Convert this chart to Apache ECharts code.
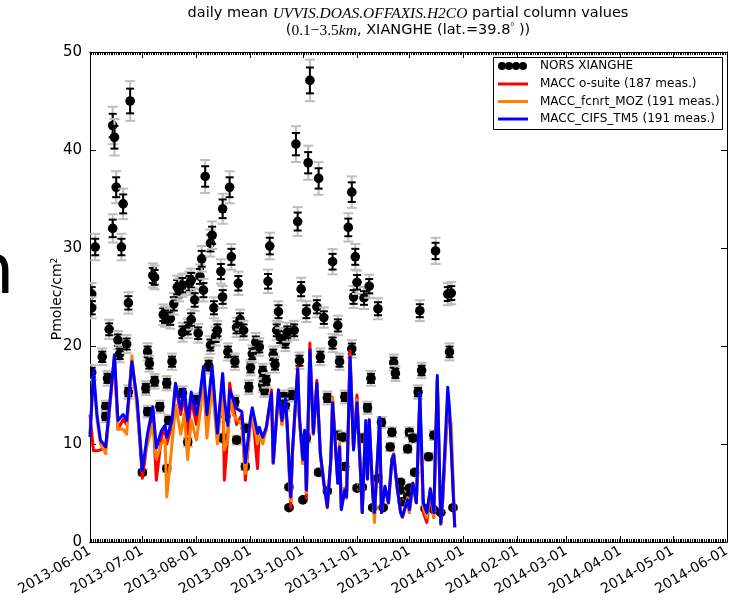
<!DOCTYPE html>
<html><head><meta charset="utf-8">
<script src="https://cdn.jsdelivr.net/npm/echarts@6/dist/echarts.min.js"></script>
<style>html,body{margin:0;padding:0;background:#fff}#c{width:731px;height:600px}</style>
</head><body><div id="c"></div>
<script>
// ---------------- data ----------------
const monthTicks = ['2013-06-01','2013-07-01','2013-08-01','2013-09-01','2013-10-01','2013-11-01','2013-12-01','2014-01-01','2014-02-01','2014-03-01','2014-04-01','2014-05-01','2014-06-01'];
const yTicks = [0,10,20,30,40,50];

const norsDates = ['2013-06-02','2013-06-02','2013-06-02','2013-06-04','2013-06-08','2013-06-10','2013-06-10','2013-06-11','2013-06-12','2013-06-14','2013-06-14','2013-06-15','2013-06-16','2013-06-17','2013-06-18','2013-06-19','2013-06-20','2013-06-22','2013-06-23','2013-06-23','2013-06-24',
'2013-07-01','2013-07-03','2013-07-04','2013-07-04','2013-07-05','2013-07-07','2013-07-08','2013-07-08','2013-07-11','2013-07-13','2013-07-14','2013-07-15','2013-07-15','2013-07-16','2013-07-17','2013-07-18','2013-07-19','2013-07-21','2013-07-22','2013-07-24','2013-07-24','2013-07-24','2013-07-27','2013-07-27','2013-07-28','2013-07-29','2013-07-29','2013-07-31',
'2013-08-01','2013-08-02','2013-08-03','2013-08-04','2013-08-05','2013-08-06','2013-08-08','2013-08-09','2013-08-09','2013-08-10','2013-08-11','2013-08-12','2013-08-13','2013-08-15','2013-08-16','2013-08-16','2013-08-16','2013-08-18','2013-08-19','2013-08-20','2013-08-21','2013-08-23','2013-08-23','2013-08-24','2013-08-24','2013-08-25','2013-08-26','2013-08-28','2013-08-29','2013-08-29','2013-08-31',
'2013-09-01','2013-09-02','2013-09-04','2013-09-06','2013-09-08','2013-09-08','2013-09-09','2013-09-10','2013-09-11','2013-09-12','2013-09-14','2013-09-15','2013-09-16','2013-09-17','2013-09-18','2013-09-20','2013-09-21','2013-09-21','2013-09-22','2013-09-23','2013-09-23','2013-09-25','2013-09-26','2013-09-27','2013-09-28','2013-09-29','2013-09-30',
'2013-10-01','2013-10-03','2013-10-03','2013-10-04','2013-10-05','2013-10-09','2013-10-10','2013-10-10','2013-10-11','2013-10-13','2013-10-15','2013-10-15','2013-10-18','2013-10-18','2013-10-21','2013-10-21','2013-10-22','2013-10-24','2013-10-25','2013-10-25','2013-10-27','2013-10-29','2013-10-29','2013-10-30','2013-10-31',
'2013-11-01','2013-11-01','2013-11-04','2013-11-04','2013-11-05','2013-11-07','2013-11-08','2013-11-09','2013-11-10','2013-11-13','2013-11-13','2013-11-15','2013-11-16','2013-11-20','2013-11-21','2013-11-22','2013-11-23','2013-11-26','2013-11-26','2013-11-27','2013-11-30','2013-11-30',
'2013-12-01','2013-12-01','2013-12-03','2013-12-04','2013-12-06','2013-12-07','2013-12-08','2013-12-10','2013-12-12','2013-12-15','2013-12-15','2013-12-16','2013-12-19','2013-12-23','2013-12-24','2013-12-25','2013-12-26'];
const norsValues = [25.3,23.9,17.3,30.1,18.9,13.8,12.8,16.7,21.7,32.0,42.5,41.3,36.2,20.6,19.2,30.1,34.5,20.2,15.3,24.4,45.0,
7.1,15.7,19.4,13.3,18.2,27.2,27.0,16.4,13.8,23.2,23.0,16.2,7.5,12.4,22.8,18.4,24.3,26.0,25.7,15.2,26.2,21.4,21.8,10.2,26.4,26.7,22.7,24.7,
14.5,21.3,27.1,28.9,25.7,37.3,18.0,30.5,20.1,31.3,23.9,21.0,21.6,27.6,34.0,25.0,10.6,12.8,19.4,36.2,29.1,18.4,14.3,21.9,10.4,26.4,22.7,21.6,7.7,11.6,15.8,
17.8,19.2,20.4,19.9,16.0,17.4,15.5,16.5,26.6,30.2,19.1,18.1,21.6,23.5,20.9,14.8,20.4,14.0,21.4,5.6,3.5,15.0,21.6,40.6,32.7,18.5,25.8,
4.3,23.5,10.6,38.7,47.1,24.0,37.1,7.1,18.9,22.9,5.2,14.7,20.3,28.6,10.9,22.1,18.4,10.7,7.7,14.8,32.1,35.7,19.7,25.0,29.1,
26.5,5.5,5.6,10.6,24.9,13.7,26.1,16.7,3.5,23.8,6.5,12.2,3.5,9.7,11.2,18.3,17.2,6.1,5.3,4.1,9.5,4.6,
11.2,5.5,10.6,7.1,15.3,23.6,17.5,3.4,8.7,10.9,3.3,29.7,3.0,25.3,19.4,25.4,3.5];

const lineDates = ['2013-06-01','2013-06-03','2013-06-05','2013-06-07','2013-06-10','2013-06-15','2013-06-17','2013-06-20','2013-06-22','2013-06-25','2013-06-28',
'2013-07-01','2013-07-04','2013-07-07','2013-07-09','2013-07-12','2013-07-14','2013-07-15','2013-07-18','2013-07-20','2013-07-23','2013-07-25','2013-07-27','2013-07-29',
'2013-08-01','2013-08-03','2013-08-05','2013-08-07','2013-08-10','2013-08-13','2013-08-16','2013-08-17','2013-08-19','2013-08-20','2013-08-22','2013-08-24','2013-08-27','2013-08-29',
'2013-09-01','2013-09-02','2013-09-05','2013-09-06','2013-09-08','2013-09-10','2013-09-13','2013-09-14','2013-09-17','2013-09-19','2013-09-21','2013-09-22','2013-09-24','2013-09-25','2013-09-28','2013-09-29',
'2013-10-01','2013-10-02','2013-10-03','2013-10-05','2013-10-07','2013-10-09','2013-10-11','2013-10-13','2013-10-15','2013-10-17','2013-10-18','2013-10-21','2013-10-22','2013-10-23','2013-10-25','2013-10-26','2013-10-28','2013-10-30',
'2013-11-01','2013-11-03','2013-11-04','2013-11-06','2013-11-07','2013-11-08','2013-11-10','2013-11-11','2013-11-12','2013-11-14','2013-11-15','2013-11-17','2013-11-19','2013-11-21','2013-11-22','2013-11-24','2013-11-26','2013-11-27','2013-11-30',
'2013-12-01','2013-12-03','2013-12-05','2013-12-07','2013-12-09','2013-12-11','2013-12-13','2013-12-15','2013-12-17','2013-12-19','2013-12-20','2013-12-23','2013-12-24','2013-12-25','2013-12-27'];
const tm5Values = [10.7,17.5,13.0,10.4,9.7,19.1,12.4,13.0,12.4,18.4,14.5,
7.3,11.1,13.8,9.6,11.4,11.9,10.7,12.4,16.2,13.6,15.6,12.4,15.3,
13.0,15.0,17.9,13.0,17.9,11.1,17.2,14.6,11.9,15.5,14.6,13.6,13.3,8.1,
12.7,13.7,11.1,11.7,10.7,11.7,15.2,8.1,15.5,12.4,14.6,11.9,4.6,9.3,17.6,12.8,
8.4,11.4,5.3,19.6,11.1,16.2,9.0,6.0,3.6,8.4,14.2,6.0,9.7,3.3,5.3,4.6,18.9,9.4,
14.2,7.2,3.0,12.4,6.4,12.4,5.0,3.0,6.2,12.7,3.0,5.7,4.0,8.4,8.9,5.6,3.0,2.6,4.3,
3.3,6.0,4.0,15.2,4.0,3.0,5.4,3.0,17.0,1.9,4.4,15.8,13.6,13.6,1.5];
const osuiteValues = [13.0,9.3,9.3,9.4,9.7,18.8,11.5,12.5,12.0,18.5,14.0,
6.5,10.5,13.5,6.3,10.8,11.5,10.0,12.0,16.0,13.0,15.0,11.0,14.5,
12.0,14.5,17.5,12.5,17.5,10.5,17.0,6.3,11.0,16.2,14.0,12.0,13.0,6.3,
12.5,13.5,7.5,11.5,10.5,11.5,15.5,8.0,15.5,12.0,14.5,12.0,3.5,9.0,17.8,12.5,
8.0,11.0,4.5,20.3,11.0,16.5,9.0,6.0,3.5,8.5,14.5,6.0,10.0,3.5,5.5,4.5,19.5,9.5,
15.0,7.0,3.0,12.0,6.5,12.5,5.0,2.5,6.0,12.5,3.0,5.5,4.0,8.5,9.0,5.5,3.0,2.5,4.5,
3.0,6.0,4.0,14.5,3.0,2.0,5.0,2.5,16.5,1.8,4.0,14.0,13.0,10.0,1.5];
const mozValues = [11.0,17.0,12.5,10.0,9.0,19.0,11.5,11.5,11.0,19.0,13.5,
7.8,10.0,12.0,8.5,10.0,10.5,4.6,10.0,14.0,11.0,13.0,8.4,12.5,
10.4,13.0,16.5,10.6,16.0,10.0,16.0,9.4,10.5,15.0,13.0,12.5,12.0,7.0,
12.0,13.0,10.0,11.0,10.0,11.5,15.0,8.0,15.0,12.0,14.0,11.5,4.2,9.0,17.0,12.5,
8.0,11.0,5.0,19.0,11.0,15.5,9.0,6.0,3.8,8.5,14.8,6.0,10.0,3.5,5.5,4.5,19.0,9.5,
14.5,7.0,3.0,12.0,6.5,12.0,5.0,2.0,6.0,12.5,3.0,5.5,4.0,8.5,9.0,5.5,3.0,2.5,4.5,
3.0,6.0,4.0,14.5,3.5,2.5,5.5,2.5,16.5,1.8,4.0,14.5,13.0,12.0,1.5];

// relative size of error bars
const ERR_RANDOM = 0.028;
const ERR_TOTAL = 0.045;

// ---------------- helpers ----------------
function ts(s){ const p = s.split('-').map(Number); return new Date(p[0], p[1]-1, p[2]).getTime(); }
function fmt(v){ const d = new Date(v); const m = d.getMonth()+1, dd = d.getDate(); return d.getFullYear()+'-'+(m<10?'0':'')+m+'-'+(dd<10?'0':'')+dd; }
const xMin = ts(monthTicks[0]), xMax = ts(monthTicks[monthTicks.length-1]);
const majorTicks = monthTicks.map(ts);
const minorTicks = [];
for (let d = new Date(xMin); d.getTime() <= xMax; d.setDate(d.getDate()+1)) minorTicks.push(d.getTime());

const FONT = 'DejaVu Sans';
const chart = echarts.init(document.getElementById('c'), null, {renderer:'canvas'});

function xAx(pos, ticks, len, labels){
  return {
    type:'value', position:pos, min:xMin, max:xMax, scale:true,
    axisLine:{show:true, onZero:false, lineStyle:{color:'#000', width:1}},
    axisTick:{show:true, inside:true, length:len, customValues:ticks, lineStyle:{color:'#000', width:1}},
    axisLabel: labels ? {show:true, customValues:majorTicks, rotate:30, margin:8, formatter:fmt, color:'#000', fontSize:14, fontFamily:FONT, hideOverlap:false} : {show:false},
    splitLine:{show:false}
  };
}
function yAx(pos, labels){
  return {
    type:'value', position:pos, min:yTicks[0], max:yTicks[yTicks.length-1], interval:10,
    axisLine:{show:true, onZero:false, lineStyle:{color:'#000', width:1}},
    axisTick:{show:true, inside:true, length:6, lineStyle:{color:'#000'}},
    axisLabel: labels ? {show:true, color:'#000', fontSize:15, fontFamily:FONT, margin:8} : {show:false},
    splitLine:{show:false}
  };
}

const lineStyle = (c)=>({color:c, width:3, join:'round'});
function lineData(vals){ return lineDates.map((d,i)=>[ts(d), vals[i]]); }

const option = {
  animation:false,
  grid:{left:90, right:4, top:52, bottom:58, outerBoundsMode:'none', containLabel:false},
  xAxis:[xAx('bottom', majorTicks, 6, true), xAx('bottom', minorTicks, 3, false), xAx('top', majorTicks, 6, false), xAx('top', minorTicks, 3, false)],
  yAxis:[yAx('left', true), yAx('right', false)],
  series:[
    {
      name:'NORS XIANGHE', type:'custom', xAxisIndex:0, yAxisIndex:0, z:2, clip:true,
      data: norsDates.map((d,i)=>[ts(d), norsValues[i]]),
      renderItem:function(params, api){
        const x = api.value(0), v = api.value(1);
        const c = api.coord([x, v]);
        const gT = api.coord([x, v*(1+ERR_TOTAL)])[1], gB = api.coord([x, v*(1-ERR_TOTAL)])[1];
        const bT = api.coord([x, v*(1+ERR_RANDOM)])[1], bB = api.coord([x, v*(1-ERR_RANDOM)])[1];
        const grey = {stroke:'#bdbdbd', lineWidth:2};
        const blk = {stroke:'#000', lineWidth:2};
        return {type:'group', children:[
          {type:'line', shape:{x1:c[0], y1:gT, x2:c[0], y2:gB}, style:grey},
          {type:'line', shape:{x1:c[0]-5, y1:gT, x2:c[0]+5, y2:gT}, style:grey},
          {type:'line', shape:{x1:c[0]-5, y1:gB, x2:c[0]+5, y2:gB}, style:grey},
          {type:'line', shape:{x1:c[0], y1:bT, x2:c[0], y2:bB}, style:blk},
          {type:'line', shape:{x1:c[0]-4, y1:bT, x2:c[0]+4, y2:bT}, style:blk},
          {type:'line', shape:{x1:c[0]-4, y1:bB, x2:c[0]+4, y2:bB}, style:blk},
          {type:'circle', shape:{cx:c[0], cy:c[1], r:4.8}, style:{fill:'#000'}}
        ]};
      }
    },
    {name:'MACC o-suite (187 meas.)', type:'line', z:3, data:lineData(osuiteValues), showSymbol:false, lineStyle:lineStyle('#ff0000')},
    {name:'MACC_fcnrt_MOZ (191 meas.)', type:'line', z:4, data:lineData(mozValues), showSymbol:false, lineStyle:lineStyle('#ff8000')},
    {name:'MACC_CIFS_TM5 (191 meas.)', type:'line', z:5, data:lineData(tm5Values), showSymbol:false, lineStyle:lineStyle('#0000ff')}
  ],
  graphic:[
    {type:'text', x:408, y:5, z:10, style:{
      text:'{n|daily mean }{i|UVVIS.DOAS.OFFAXIS.H2CO}{n| partial column values}\n{n|(}{r|0.1−3.5}{i|km}{n|, XIANGHE (lat.=39.8}{s|°}{n| ))}',
      align:'center', verticalAlign:'top',
      rich:{
        n:{fontFamily:FONT, fontSize:14.5, fill:'#000', lineHeight:17},
        i:{fontFamily:'Liberation Serif', fontStyle:'italic', fontSize:15.5, fill:'#000', lineHeight:17},
        r:{fontFamily:'Liberation Serif', fontSize:15.5, fill:'#000', lineHeight:17},
        s:{fontFamily:'Liberation Serif', fontSize:10, fill:'#000', lineHeight:17, verticalAlign:'top'}
      }}},
    {type:'text', x:57, y:299, rotation:Math.PI/2, z:10, style:{
      text:'{a|Pmolec/cm}{b|2}', align:'center', verticalAlign:'middle',
      rich:{a:{fontFamily:FONT, fontSize:14, fill:'#000'}, b:{fontFamily:FONT, fontSize:9, fill:'#000', verticalAlign:'top'}}}},
    {type:'text', x:-30, y:240, z:10, style:{text:'n', fontFamily:FONT, fontSize:70, fill:'#000', verticalAlign:'top'}},
    {type:'rect', z:10, shape:{x:493.5, y:57.5, width:229, height:72}, style:{fill:'#fff', stroke:'#000', lineWidth:1}},
    {type:'circle', z:11, shape:{cx:502, cy:66, r:4}, style:{fill:'#000'}},
    {type:'circle', z:11, shape:{cx:509, cy:66, r:4}, style:{fill:'#000'}},
    {type:'circle', z:11, shape:{cx:516, cy:66, r:4}, style:{fill:'#000'}},
    {type:'circle', z:11, shape:{cx:523, cy:66, r:4}, style:{fill:'#000'}},
    {type:'line', z:11, shape:{x1:498, y1:84, x2:528, y2:84}, style:{stroke:'#ff0000', lineWidth:3}},
    {type:'line', z:11, shape:{x1:498, y1:101.5, x2:528, y2:101.5}, style:{stroke:'#ff8000', lineWidth:3}},
    {type:'line', z:11, shape:{x1:498, y1:119, x2:528, y2:119}, style:{stroke:'#0000ff', lineWidth:3}},
    {type:'text', z:11, x:540, y:66, style:{text:'NORS XIANGHE', fontFamily:FONT, fontSize:12, fill:'#000', verticalAlign:'middle'}},
    {type:'text', z:11, x:540, y:84, style:{text:'MACC o-suite (187 meas.)', fontFamily:FONT, fontSize:12, fill:'#000', verticalAlign:'middle'}},
    {type:'text', z:11, x:540, y:101.5, style:{text:'MACC_fcnrt_MOZ (191 meas.)', fontFamily:FONT, fontSize:12, fill:'#000', verticalAlign:'middle'}},
    {type:'text', z:11, x:540, y:119, style:{text:'MACC_CIFS_TM5 (191 meas.)', fontFamily:FONT, fontSize:12, fill:'#000', verticalAlign:'middle'}}
  ]
};
chart.setOption(option);
</script></body></html>
